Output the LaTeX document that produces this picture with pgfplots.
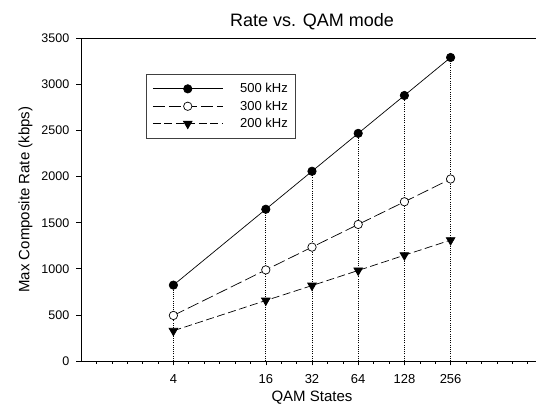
\documentclass[border=0pt]{standalone}
\usepackage{fontspec}
\setmainfont{Liberation Sans}
\usepackage{pgfplots}
\pgfplotsset{compat=1.18}
\begin{document}
\begin{tikzpicture}
\begin{axis}[
  name=ax,
  at={(0,0)}, anchor=south west,
  scale only axis,
  width=462pt, height=322.7pt,
  xmin=0, xmax=10, ymin=0, ymax=3500,
  xtick={2,4,5,6,7,8},
  xticklabels={4,16,32,64,128,256},
  minor xtick={0.3333,0.6667,1,1.3333,1.6667,2,2.3333,2.6667,3,3.3333,3.6667,4,4.3333,4.6667,5,5.3333,5.6667,6,6.3333,6.6667,7,7.3333,7.6667,8,8.3333,8.6667,9,9.3333,9.6667},
  ytick={0,500,1000,1500,2000,2500,3000,3500},
  tick align=outside,
  xtick pos=left, ytick pos=left,
  major tick length=4.5pt, minor tick length=3pt,
  tick style={black, line width=0.6pt},
  axis line style={line width=0.8pt},
  /pgf/number format/assume math mode=true,
  /pgf/number format/set thousands separator={},
  yticklabel style={font=\fontsize{12.5}{12.5}\selectfont, inner sep=0pt, xshift=-7pt},
  xticklabel style={font=\fontsize{13}{13}\selectfont, anchor=base, yshift=-17.7pt},
  title={Rate vs. QAM mode},
  title style={at={(axis description cs:0.5,1.018)}, anchor=base, font=\fontsize{18}{18}\selectfont},
  xlabel={QAM States},
  xlabel style={at={(axis description cs:0.5,-0.124)}, anchor=base, font=\fontsize{15}{15}\selectfont},
  ylabel={Max Composite Rate (kbps)},
  ylabel style={at={(axis description cs:-0.112,0.5)}, anchor=base, font=\fontsize{15}{15}\selectfont},
  legend style={at={(axis description cs:0.1407,0.8894)}, anchor=north west,
    draw=black!75, line width=0.8pt, fill=white,
    font=\fontsize{13}{13}\selectfont, inner xsep=6pt, inner ysep=8pt,
    row sep=4.5pt,
    nodes={inner ysep=1pt},
    /tikz/every odd column/.append style={column sep=15pt}},
  legend cell align=left,
  legend image code/.code={\draw[#1, mark repeat=2, mark phase=2] plot coordinates {(0pt,0pt) (35pt,0pt) (70pt,0pt)};},
]
\addplot[ycomb, black, line width=0.8pt, dash pattern=on 1pt off 1.2pt, mark=none, forget plot]
  coordinates {(2,823) (4,1646) (5,2058) (6,2469) (7,2880) (8,3292)};
\addplot[black, line width=0.7pt, mark=*, mark size=4.2pt, mark options={solid, fill=black}]
  coordinates {(2,823) (4,1646) (5,2058) (6,2469) (7,2880) (8,3292)};
\addlegendentry{500 kHz}
\addplot[black, line width=0.7pt, dash pattern=on 12pt off 4pt, mark=*, mark size=4.2pt, mark options={solid, fill=white, line width=0.7pt}]
  coordinates {(2,494) (4,988) (5,1235) (6,1481) (7,1727) (8,1974)};
\addlegendentry{300 kHz}
\addplot[black, line width=0.7pt, dash pattern=on 8pt off 3.5pt, mark=triangle*, mark size=5pt, mark options={solid, fill=black, rotate=180}]
  coordinates {(2,328) (4,656) (5,818) (6,982) (7,1147) (8,1311)};
\addlegendentry{200 kHz}
\end{axis}
\pgfresetboundingbox
\path[use as bounding box] ([shift={(-81pt,-43pt)}]ax.south west) rectangle ([shift={(455pt,361pt)}]ax.south west);
\end{tikzpicture}
\end{document}
